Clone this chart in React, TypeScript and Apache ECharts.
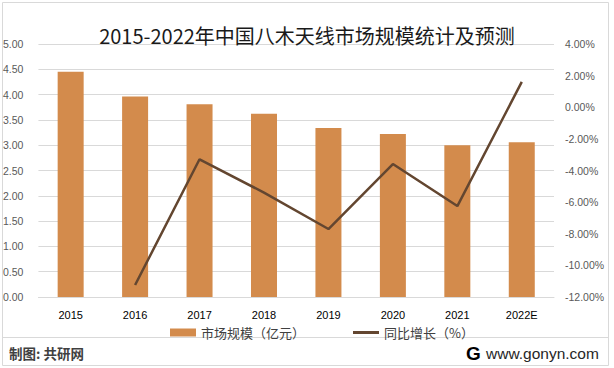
import React, { useEffect, useRef } from "react";
import * as echarts from "echarts";

const categories = ["2015", "2016", "2017", "2018", "2019", "2020", "2021", "2022E"];
const marketSize = [4.45, 3.96, 3.81, 3.62, 3.34, 3.22, 3.0, 3.06];
const yoyGrowth: (number | null)[] = [null, -11.24, -3.29, -5.4, -7.7, -3.59, -6.25, 1.6];
const titleText = "2015-2022年中国八木天线市场规模统计及预测";
const barName = "市场规模（亿元）";
const lineName = "同比增长（%）";
const sourceText = "制图: 共研网";
const siteText = "www.gonyn.com";

export default function App() {
  const ref = useRef<HTMLDivElement>(null);
  useEffect(() => {
    if (!ref.current) return;
    const chart = echarts.init(ref.current, null, { renderer: "svg" });
    const cjk = '"Noto Sans CJK SC", "Liberation Sans", sans-serif';
    const num = '"Liberation Sans", "Noto Sans CJK SC", sans-serif';
    chart.setOption({
      animation: false,
      backgroundColor: "#ffffff",
      title: {
        text: titleText,
        left: "center",
        top: 20,
        textStyle: { fontFamily: cjk, fontSize: 20, fontWeight: "normal", color: "#1a1a1a" },
      },
      grid: { left: 38, right: 60, top: 44, bottom: 71, containLabel: false },
      legend: {
        left: 165,
        top: 321,
        itemGap: 48,
        itemWidth: 26,
        itemHeight: 8,
        textStyle: { fontFamily: cjk, fontSize: 13, color: "#404040" },
        data: [
          { name: barName, icon: "rect" },
          { name: lineName, icon: "path://M0,0L26,0L26,3L0,3Z" },
        ],
      },
      xAxis: {
        type: "category",
        data: categories,
        axisLine: { lineStyle: { color: "#d9d9d9" } },
        axisTick: { show: false },
        axisLabel: { fontFamily: num, fontSize: 11, color: "#000", margin: 12 },
      },
      yAxis: [
        {
          type: "value",
          min: 0,
          max: 5,
          interval: 0.5,
          axisLine: { show: false },
          axisTick: { show: false },
          splitLine: { lineStyle: { color: "#d9d9d9" } },
          axisLabel: {
            fontFamily: num,
            fontSize: 10.5,
            color: "#595959",
            margin: 15,
            formatter: (v: number) => v.toFixed(2),
          },
        },
        {
          type: "value",
          min: -12,
          max: 4,
          interval: 2,
          axisLine: { show: false },
          axisTick: { show: false },
          splitLine: { show: false },
          axisLabel: {
            fontFamily: num,
            fontSize: 10.5,
            color: "#595959",
            margin: 11,
            formatter: (v: number) => v.toFixed(2) + "%",
          },
        },
      ],
      series: [
        {
          name: barName,
          type: "bar",
          data: marketSize,
          barWidth: 26,
          itemStyle: { color: "#d38b4c" },
        },
        {
          name: lineName,
          type: "line",
          yAxisIndex: 1,
          data: yoyGrowth,
          symbol: "none",
          lineStyle: { color: "#634630", width: 2.5 },
          itemStyle: { color: "#634630" },
        },
      ],
      graphic: [
        {
          type: "rect",
          shape: { x: 2.5, y: 2.5, width: 606, height: 363 },
          style: { fill: "none", stroke: "#d9d9d9", lineWidth: 1 },
          silent: true,
        },
        {
          type: "line",
          shape: { x1: 2.5, y1: 337.5, x2: 608.5, y2: 337.5 },
          style: { stroke: "#d9d9d9", lineWidth: 1 },
          silent: true,
        },
        {
          type: "text",
          x: 9,
          y: 353,
          style: {
            text: sourceText,
            fontFamily: cjk,
            fontSize: 13.5,
            fontWeight: "bold",
            fill: "#404040",
            verticalAlign: "middle",
          },
        },
        {
          type: "text",
          x: 466,
          y: 353,
          style: {
            text: "G",
            fontFamily: num,
            fontSize: 19,
            fontWeight: "bold",
            fill: new echarts.graphic.LinearGradient(0, 0, 0, 1, [
              { offset: 0, color: "#f6a04a" },
              { offset: 1, color: "#ec6a2c" },
            ]),
            verticalAlign: "middle",
          },
        },
        {
          type: "text",
          x: 486,
          y: 353,
          style: {
            text: siteText,
            fontFamily: num,
            fontSize: 15.5,
            fill: "#262626",
            verticalAlign: "middle",
          },
        },
      ],
    });
    return () => chart.dispose();
  }, []);
  return (
    <div
      ref={ref}
      style={{ position: "fixed", left: 0, top: 0, width: 614, height: 368, background: "#fff" }}
    />
  );
}
